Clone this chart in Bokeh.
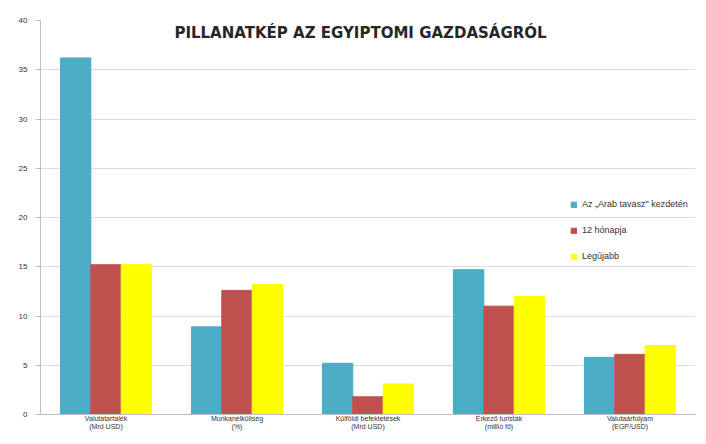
from bokeh.plotting import figure
from bokeh.models import ColumnDataSource, Label, Legend, LegendItem, FixedTicker
from bokeh.transform import dodge
from bokeh.embed import file_html
from bokeh.resources import INLINE

categories = ["Valutatartalék\n(Mrd USD)", "Munkanélküliség\n(%)", "Külföldi befektetések\n(Mrd USD)",
              "Érkező turisták\n(millió fő)", "Valutaárfolyam\n(EGP/USD)"]
series_names = ["Az „Arab tavasz\" kezdetén", "12 hónapja", "Legújabb"]
arab_spring = [36.2, 8.9, 5.2, 14.7, 5.8]
months_12 = [15.2, 12.6, 1.8, 11.0, 6.1]
latest = [15.2, 13.2, 3.1, 12.0, 7.0]
y_ticks = [0, 5, 10, 15, 20, 25, 30, 35, 40]
colors = ["#4BACC6", "#C0504D", "#FFFF00"]

xs = [i + 0.5 for i in range(len(categories))]
src = ColumnDataSource(dict(x=xs, a=arab_spring, b=months_12, c=latest))

p = figure(width=698, height=436, output_backend="svg", toolbar_location=None,
           x_range=(0, 5), y_range=(0, 40))
p.min_border_left = 40
p.min_border_right = 3
p.min_border_top = 20
p.min_border_bottom = 22
p.outline_line_color = None
p.background_fill_color = "white"
p.border_fill_color = "white"

w = 0.232
r1 = p.vbar(x=dodge("x", -w, range=p.x_range), top="a", width=w, source=src, color=colors[0])
r2 = p.vbar(x=dodge("x", 0, range=p.x_range), top="b", width=w, source=src, color=colors[1])
r3 = p.vbar(x=dodge("x", w, range=p.x_range), top="c", width=w, source=src, color=colors[2])

p.xgrid.grid_line_color = None
p.ygrid.grid_line_color = "#DDDDDD"
p.ygrid.ticker = FixedTicker(ticks=y_ticks)
p.yaxis.ticker = FixedTicker(ticks=y_ticks)
p.xaxis.ticker = FixedTicker(ticks=xs)
p.xaxis.major_label_overrides = {x: c for x, c in zip(xs, categories)}

for ax in (p.xaxis[0], p.yaxis[0]):
    ax.axis_line_color = "#BFBFBF"
    ax.major_tick_line_color = "#BFBFBF"
    ax.minor_tick_line_color = None
    ax.major_label_text_font = "Liberation Sans"
    ax.major_label_text_color = "#333333"
p.yaxis.major_tick_in = 0
p.yaxis.major_tick_out = 5
p.yaxis.major_label_text_font_size = "8px"
p.yaxis.major_label_standoff = 8
p.xaxis.major_tick_in = 0
p.xaxis.major_tick_out = 0
p.xaxis.major_label_text_font_size = "7px"
p.xaxis.major_label_standoff = 0

title = Label(x=320, y=382, x_units="screen", y_units="screen",
              text="PILLANATKÉP AZ EGYIPTOMI GAZDASÁGRÓL", text_font="DejaVu Sans",
              text_font_style="bold", text_font_size="15px", text_color="#262626",
              text_align="center", text_baseline="middle")
p.add_layout(title)

legend = Legend(items=[LegendItem(label=series_names[0], renderers=[r1]),
                       LegendItem(label=series_names[1], renderers=[r2]),
                       LegendItem(label=series_names[2], renderers=[r3])],
                location=(530, 150), padding=0, margin=0, spacing=10,
                label_text_font="Liberation Sans", label_text_font_size="9px",
                label_text_color="#333333", glyph_width=7, glyph_height=7,
                label_height=16, label_standoff=5,
                background_fill_alpha=0, border_line_color=None)
p.add_layout(legend)

open("out.html", "w").write(file_html(p, INLINE))
